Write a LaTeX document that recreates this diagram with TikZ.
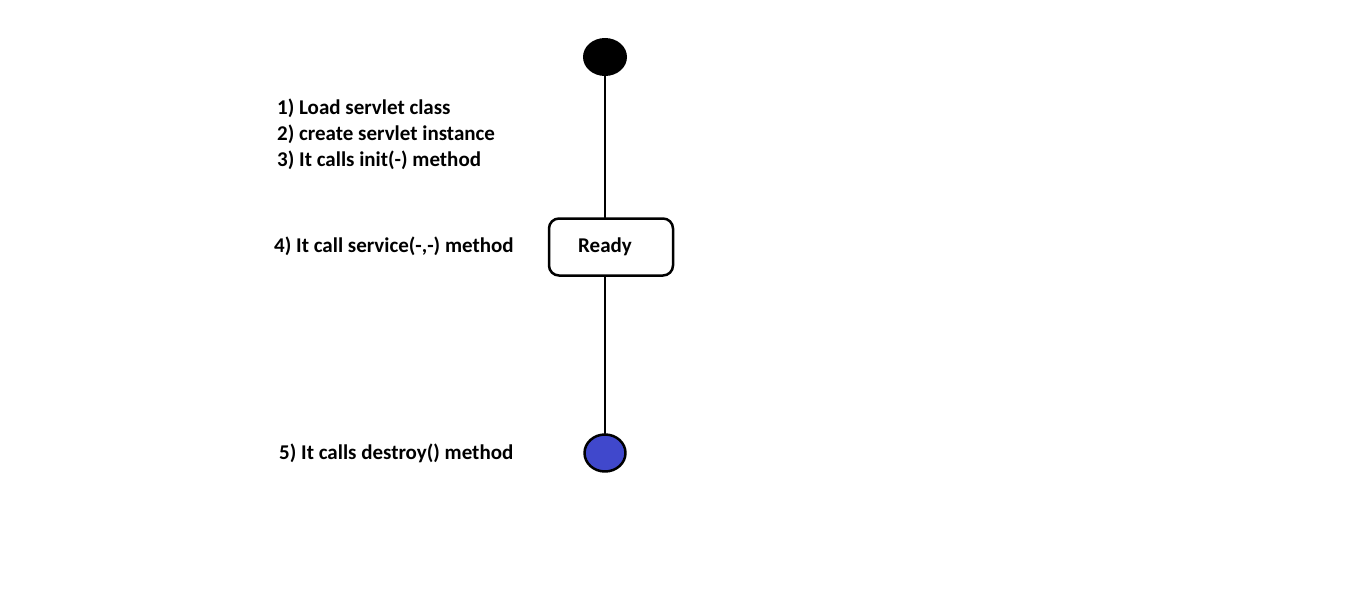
\documentclass[tikz,border=0pt]{standalone}
\usepackage{fontspec}
\setmainfont{Carlito}
\usetikzlibrary{positioning,shapes.geometric}
\definecolor{endblue}{RGB}{64,72,204}
\newcommand{\notefont}{\fontsize{21}{26}\selectfont\bfseries}
\tikzset{
	lifeline/.style={line width=2.5pt},
	startdot/.style={ellipse,fill=black,minimum width=44pt,minimum height=38pt,inner sep=0pt},
	enddot/.style={ellipse,draw=black,line width=2.5pt,fill=endblue,minimum width=41pt,minimum height=37pt,inner sep=0pt},
	statebox/.style={draw,line width=2.5pt,rounded corners=10pt,minimum width=124pt,minimum height=57pt,font=\notefont},
	note/.style={anchor=west,align=left,inner sep=0pt,font=\notefont}
}
\begin{document}
\begin{tikzpicture}[x=1pt,y=-1pt,line join=round,line cap=round]
	\useasboundingbox[fill=white] (0,0) rectangle (1360,594);
	%\draw[color=gray!50,dashed] (0,0) grid[step=50] (1360,594);
	\node[startdot] (start) at (605,57) {};
	\node[statebox] (ready) at (611,247) {Ready\kern12pt};
	\node[enddot] (stop) at (605,453) {};
	\draw[lifeline] (start.south) -- (start.south|-ready.north);
	\draw[lifeline] (start.south|-ready.south) -- (stop.north);
	% notes on the left
	\node[note] (init) at (277,134) {1) Load servlet class\\2) create servlet instance\\3) It calls init(-) method};
	\node[note] (serve) at (274,246) {4) It call service(-,-) method};
	\node[note] (kill) at (279,453) {5) It calls destroy() method};
\end{tikzpicture}
\end{document}
